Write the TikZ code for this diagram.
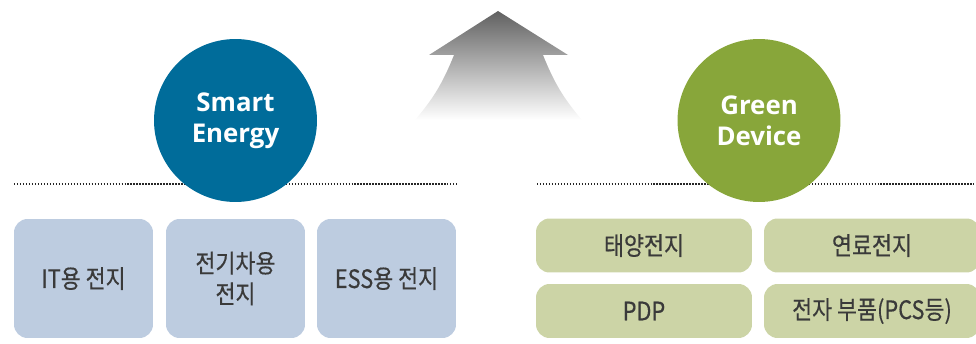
\documentclass[tikz,border=0pt]{standalone}
\usepackage{fontspec}
\newfontfamily\krfont[FakeStretch=0.86,FakeBold=0.4]{Noto Sans CJK KR}
\newfontfamily\enfont{Open Sans}
\definecolor{seblue}{HTML}{006C9A}
\definecolor{gdgreen}{HTML}{88A63A}
\definecolor{boxblue}{HTML}{BDCCE0}
\definecolor{boxgreen}{HTML}{CCD4A6}
\definecolor{boxtext}{HTML}{3A3A3A}

\begin{document}
\begin{tikzpicture}
[
	x=0.02cm,y=-0.02cm,
	hub/.style={shape=circle,draw=none,minimum size=3.26cm,inner sep=0pt,text=white,align=center,font=\enfont\bfseries\fontsize{14.7}{17.6}\selectfont},
	box/.style={rectangle,rounded corners=0.27cm,draw=none,text=boxtext,align=center,font=\krfont\fontsize{14.4}{17.5}\selectfont},
	sbox/.style={box,fill=boxblue,minimum width=2.78cm,minimum height=2.38cm},
	gbox/.style={box,fill=boxgreen,minimum width=4.32cm,minimum height=1.08cm},
	dotline/.style={draw=black!85,line width=0.8pt,dash pattern=on 0.8pt off 0.9pt},
]
	\useasboundingbox (0,0) rectangle (976,344);

	\begin{scope}
		\shade[top color=black!62,middle color=black!45,bottom color=white] (498,11) -- (568,55) -- (543,55) .. controls (555,85) and (565,100) .. (582,120) -- (415,120) .. controls (432,100) and (442,85) .. (454,55) -- (429,55) -- cycle;
	\end{scope}

	\begin{scope}
		\coordinate (sl) at (14,184);
		\coordinate (sr) at (459,184);
		\coordinate (gl) at (537,184);
		\coordinate (gr) at (976,184);
		\draw[dotline] (sl) -- (sr);
		\draw[dotline] (gl) -- (gr);
	\end{scope}

	\begin{scope}
		\node[hub,fill=seblue] (smart) at (235.5,120.5) {Smart\\Energy};
		\node[sbox] (itbat) at (83.5,278.5) {IT용 전지};
		\node[sbox] (evbat) at (235.5,278.5) {전기차용\\전지};
		\node[sbox] (essbat) at (386.5,278.5) {ESS용 전지};
	\end{scope}

	\begin{scope}
		\node[hub,fill=gdgreen] (green) at (759,120.5) {Green\\Device};
		\node[gbox] (solar) at (644,245.5) {태양전지};
		\node[gbox] (fuel) at (872,245.5) {연료전지};
		\node[gbox] (pdp) at (644,311) {PDP};
		\node[gbox] (parts) at (872,311) {전자 부품(PCS등)};
	\end{scope}
\end{tikzpicture}
\end{document}
